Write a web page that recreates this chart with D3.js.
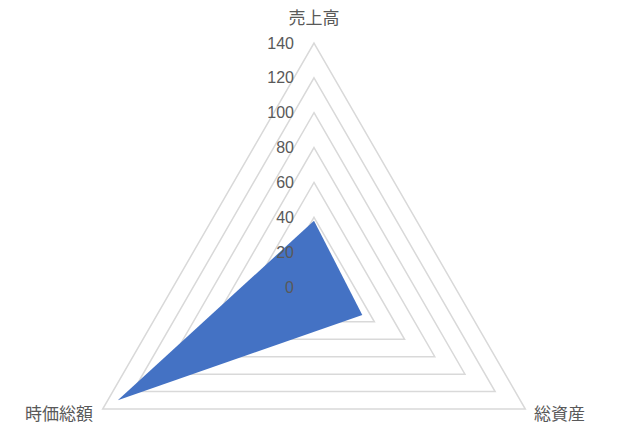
<!DOCTYPE html>
<html><head><meta charset="utf-8">
<script src="https://cdn.jsdelivr.net/npm/d3@7"></script>
<style>body{margin:0;background:#fff}svg{display:block}</style>
</head><body>
<script>
const categories = ["売上高", "総資産", "時価総額"];
const values = [38, 32, 130];
const tickValues = [0, 20, 40, 60, 80, 100, 120, 140];

const W = 618, H = 433, cx = 314, cy = 287, R = 244;
const svg = d3.select("body").append("svg").attr("width", W).attr("height", H);
const r = d3.scaleLinear().domain([0, 140]).range([0, R]);
const ang = d3.scalePoint().domain(categories).range([0, 2 * Math.PI * 2 / 3]);
const pt = (c, v) => {
  const a = ang(c) - Math.PI / 2;
  return [cx + r(v) * Math.cos(a), cy + r(v) * Math.sin(a)];
};

// grid rings
svg.append("g").selectAll("polygon").data(tickValues.filter(t => t > 0)).join("polygon")
  .attr("points", t => categories.map(c => pt(c, t).join(",")).join(" "))
  .attr("fill", "none").attr("stroke", "#d9d9d9").attr("stroke-width", 1.5);

// data area
svg.append("polygon")
  .attr("points", categories.map((c, i) => pt(c, values[i]).join(",")).join(" "))
  .attr("fill", "#4472c4");

// tick labels
svg.append("g").selectAll("text").data(tickValues).join("text")
  .attr("x", cx - 20).attr("y", t => pt(categories[0], t)[1])
  .attr("text-anchor", "end").attr("dominant-baseline", "central")
  .attr("font-family", "'Liberation Sans', Arial, sans-serif").attr("font-size", 16)
  .attr("fill", "#595959").text(t => t);

// category labels
const labelPos = [
  {x: cx, y: 16, anchor: "middle"},
  {x: 534, y: 412, anchor: "start"},
  {x: 93, y: 412, anchor: "end"}
];
svg.append("g").selectAll("text").data(categories).join("text")
  .attr("x", (d, i) => labelPos[i].x).attr("y", (d, i) => labelPos[i].y)
  .attr("text-anchor", (d, i) => labelPos[i].anchor).attr("dominant-baseline", "central")
  .attr("font-family", "'Noto Sans CJK JP', sans-serif").attr("font-size", 17)
  .attr("fill", "#595959").text(d => d);
</script>
</body></html>
